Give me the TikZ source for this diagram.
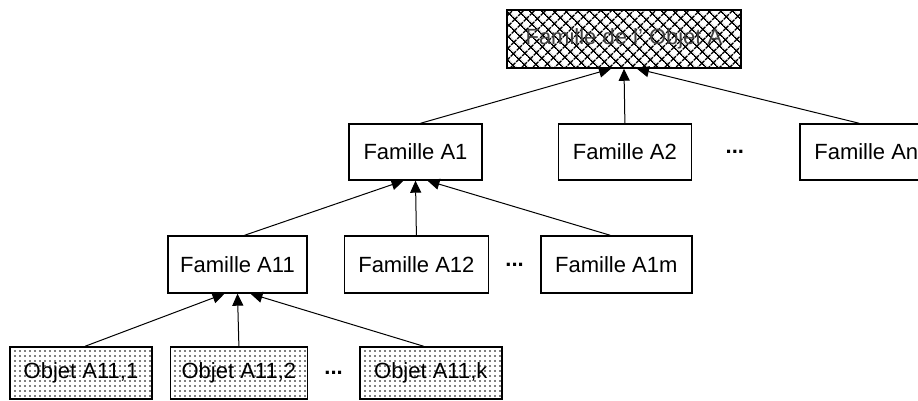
\documentclass[tikz,border=0pt]{standalone}
\usepackage{fontspec}
\setmainfont{Liberation Sans}
\usetikzlibrary{arrows.meta,positioning,calc,patterns.meta}
\tikzset{
  famille/.style={rectangle, draw, line width=0.7pt, align=center, inner sep=0pt,
                  minimum width=66.5pt, minimum height=28pt, font=\fontsize{11}{13}\selectfont},
  racine/.style={famille, minimum width=117pt, minimum height=29pt, text=black!75,
                 pattern={Hatch[angle=45,distance=4pt,line width=0.75pt]}},
  objet/.style={famille, minimum height=26pt,
                pattern={Dots[distance=2.5pt,radius=0.45pt]}},
  etc/.style={font=\fontsize{11}{13}\selectfont\bfseries, inner sep=0pt},
  lien/.style={-{Triangle[length=6pt,width=5.5pt]}, line width=0.5pt},
}
\begin{document}
\begin{tikzpicture}[x=0.5pt, y=-0.5pt]
  \fill[white] (0,0) rectangle (918,401);
  \clip (0,0) rectangle (918,401);
  % racine
  \node[racine] (fam) at (624,39) {Famille de l' Objet A};
  % familles A1 ... An
  \node[famille] (a1) at (415.5,152) {Famille A1};
  \node[famille, right=37.5pt of a1] (a2) {Famille A2};
  \node[famille, right=53.5pt of a2] (an) {Famille An};
  \node[etc] (etc2) at ($(a2.east)!0.4!(an.west)$) {...};
  % sous-familles de A1
  \node[famille, minimum width=69.5pt, minimum height=28.5pt] (a11) at (237.5,264.5) {Famille A11};
  \node[famille, minimum width=72pt, minimum height=28.5pt, right=18pt of a11] (a12) {Famille A12};
  \node[famille, minimum width=75.5pt, minimum height=28.5pt, right=25.5pt of a12] (a1m) {Famille A1m};
  \node[etc] (etc3) at ($(a12.east)!0.5!(a1m.west)$) {...};
  % objets de A11
  \node[objet, minimum width=71pt] (o1) at (81,373) {Objet A11,1};
  \node[objet, minimum width=68.5pt, right=8.5pt of o1] (o2) {Objet A11,2};
  \node[objet, minimum width=71pt, right=25.5pt of o2] (ok) {Objet A11,k};
  \node[etc] (etc4) at ($(o2.east)!0.5!(ok.west)$) {...};
  % liens
  \draw[lien] ([xshift=2.5pt]a1.north) -- ([xshift=-6.5pt]fam.south);
  \draw[lien] (a2.north) -- (fam.south);
  \draw[lien] ([xshift=-3.5pt]an.north) -- ([xshift=6.5pt]fam.south);
  \draw[lien] ([xshift=3.5pt]a11.north) -- ([xshift=-6pt]a1.south);
  \draw[lien] (a12.north) -- (a1.south);
  \draw[lien] ([xshift=-3pt]a1m.north) -- ([xshift=6pt]a1.south);
  \draw[lien] ([xshift=2pt]o1.north) -- ([xshift=-6.5pt]a11.south);
  \draw[lien] (o2.north) -- (a11.south);
  \draw[lien] ([xshift=-3.5pt]ok.north) -- ([xshift=6.5pt]a11.south);
\end{tikzpicture}
\end{document}
